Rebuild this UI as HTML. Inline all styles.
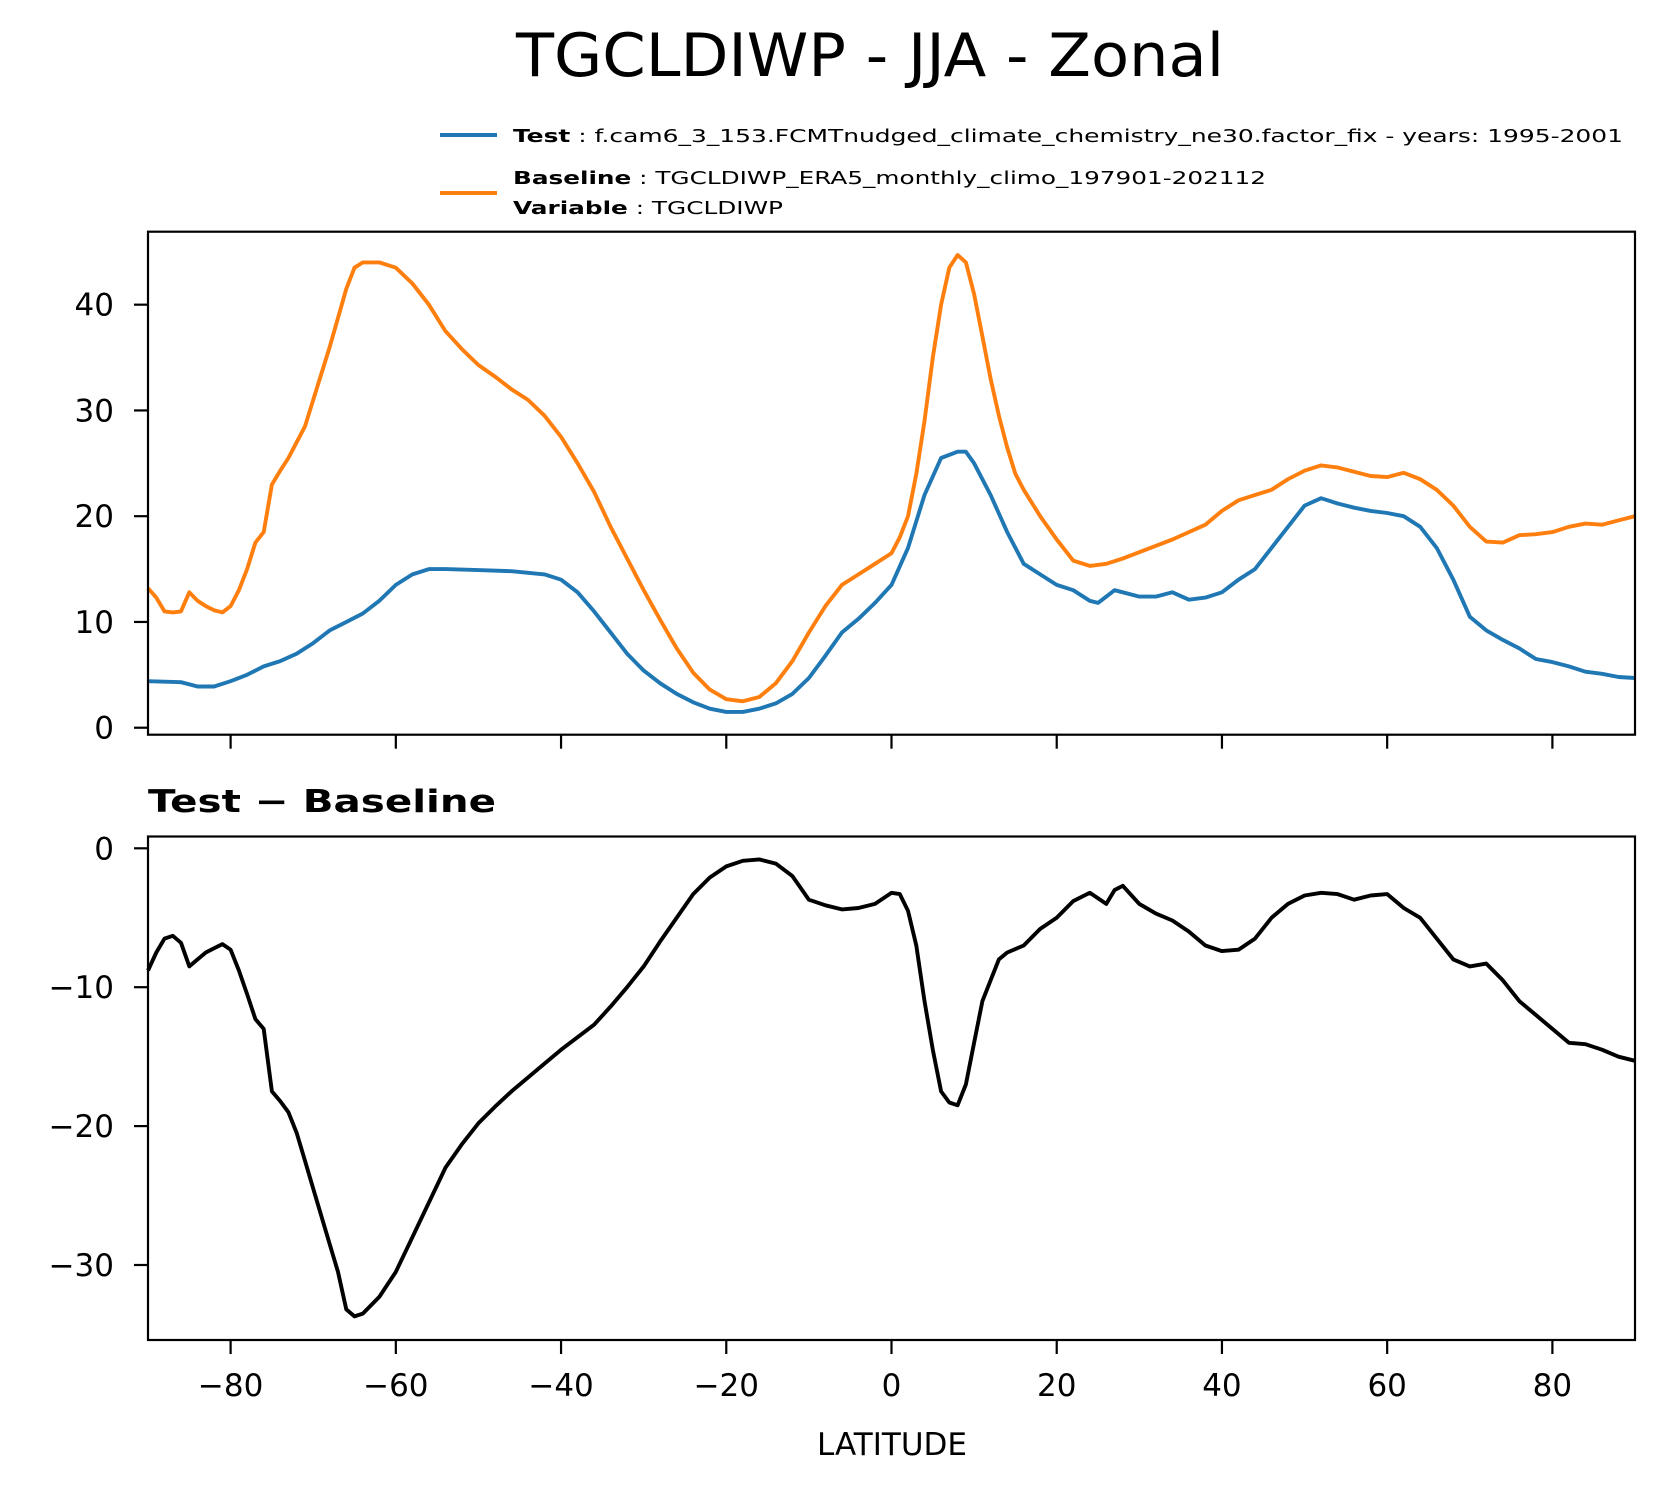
<!DOCTYPE html>
<html><head><meta charset="utf-8"><style>
html,body{margin:0;padding:0;background:#fff}
svg{display:block;font-family:"DejaVu Sans","Liberation Sans",sans-serif}
</style></head><body>
<svg id="fig" width="1665" height="1496" viewBox="0 0 1665 1496">
<text x="870" y="76" text-anchor="middle" font-size="60" textLength="708" lengthAdjust="spacingAndGlyphs">TGCLDIWP - JJA - Zonal</text>
<g>
<line x1="440" y1="135" x2="497" y2="135" stroke="#1f77b4" stroke-width="4"/>
<text x="513" y="142" font-size="18" textLength="1110" lengthAdjust="spacingAndGlyphs"><tspan font-weight="bold">Test</tspan> : f.cam6_3_153.FCMTnudged_climate_chemistry_ne30.factor_fix - years: 1995-2001</text>
<line x1="440" y1="193" x2="497" y2="193" stroke="#ff7f0e" stroke-width="4"/>
<text x="513" y="184" font-size="18" textLength="753" lengthAdjust="spacingAndGlyphs"><tspan font-weight="bold">Baseline</tspan> : TGCLDIWP_ERA5_monthly_climo_197901-202112</text>
<text x="513" y="214" font-size="18" textLength="270" lengthAdjust="spacingAndGlyphs"><tspan font-weight="bold">Variable</tspan> : TGCLDIWP</text>
</g>
<g id="top"></g>
<g id="bot"></g>
<text x="148" y="812" font-size="31" font-weight="bold" textLength="348" lengthAdjust="spacingAndGlyphs">Test − Baseline</text>
<text x="892" y="1455" text-anchor="middle" font-size="31">LATITUDE</text>
</svg>
<script>
const xTicks=[-80,-60,-40,-20,0,20,40,60,80];
const topYTicks=[0,10,20,30,40];
const botYTicks=[0,-10,-20,-30];
const baseLat=[-90,-89,-88,-87,-86,-85,-84,-83,-82,-81,-80,-79,-78,-77,-76,-75,-74,-73,-72,-71,-70,-68,-66,-65,-64,-62,-60,-58,-56,-54,-52,-50,-48,-46,-44,-42,-40,-38,-36,-34,-32,-30,-28,-26,-24,-22,-20,-18,-16,-14,-12,-10,-8,-6,-4,-2,0,1,2,3,4,5,6,7,8,9,10,11,12,13,14,15,16,18,20,22,24,26,28,30,32,34,36,38,40,42,44,46,48,50,52,54,56,58,60,62,64,66,68,70,72,74,76,78,80,82,84,86,88,90];
const baseVal=[13.2,12.3,11,10.9,11,12.8,12,11.5,11.1,10.9,11.5,13,15,17.5,18.5,23,24.3,25.5,27,28.5,31,36,41.5,43.5,44,44,43.5,42,40,37.5,35.8,34.3,33.2,32,31,29.5,27.5,25,22.3,19,16,13,10.2,7.5,5.2,3.6,2.7,2.5,2.9,4.2,6.3,9,11.5,13.5,14.5,15.5,16.5,18,20,24,29,35,40,43.5,44.7,44,41,37,33,29.5,26.5,24,22.5,20,17.8,15.8,15.3,15.5,16,16.6,17.2,17.8,18.5,19.2,20.5,21.5,22,22.5,23.5,24.3,24.8,24.6,24.2,23.8,23.7,24.1,23.5,22.5,21,19,17.6,17.5,18.2,18.3,18.5,19,19.3,19.2,19.6,20];
const testLat=[-90,-86,-84,-82,-80,-78,-76,-74,-72,-70,-68,-66,-64,-62,-60,-58,-56,-54,-50,-46,-42,-40,-38,-36,-34,-32,-30,-28,-26,-24,-22,-20,-18,-16,-14,-12,-10,-8,-6,-4,-2,0,2,4,6,8,9,10,12,14,16,18,20,22,24,25,27,28,30,32,34,36,38,40,42,44,46,48,50,52,54,56,58,60,62,64,66,68,70,72,74,76,78,80,82,84,86,88,90];
const testVal=[4.4,4.3,3.9,3.9,4.4,5,5.8,6.3,7,8,9.2,10,10.8,12,13.5,14.5,15,15,14.9,14.8,14.5,14,12.8,11,9,7,5.4,4.2,3.2,2.4,1.8,1.5,1.5,1.8,2.3,3.2,4.7,6.8,9,10.3,11.8,13.5,17,22,25.5,26.1,26.1,25,22,18.5,15.5,14.5,13.5,13,12,11.8,13,12.8,12.4,12.4,12.8,12.1,12.3,12.8,14,15,17,19,21,21.7,21.2,20.8,20.5,20.3,20,19,17,14,10.5,9.2,8.3,7.5,6.5,6.2,5.8,5.3,5.1,4.8,4.7];
const diffLat=[-90,-89,-88,-87,-86,-85,-84,-83,-82,-81,-80,-79,-78,-77,-76,-75,-74,-73,-72,-71,-70,-68,-67,-66,-65,-64,-62,-60,-58,-56,-54,-52,-50,-48,-46,-44,-42,-40,-38,-36,-34,-32,-30,-28,-26,-24,-22,-20,-18,-16,-14,-12,-10,-8,-6,-4,-2,0,1,2,3,4,5,6,7,8,9,10,11,12,13,14,16,18,20,22,24,26,27,28,30,32,34,36,38,40,42,44,46,48,50,52,54,56,58,60,62,64,66,68,70,72,74,76,78,80,82,84,86,88,90];
const diffVal=[-8.8,-7.5,-6.5,-6.3,-6.8,-8.5,-8,-7.5,-7.2,-6.9,-7.3,-8.8,-10.5,-12.3,-13,-17.5,-18.2,-19,-20.5,-22.5,-24.5,-28.5,-30.5,-33.2,-33.7,-33.5,-32.3,-30.5,-28,-25.5,-23,-21.3,-19.8,-18.6,-17.5,-16.5,-15.5,-14.5,-13.6,-12.7,-11.4,-10,-8.5,-6.7,-5,-3.3,-2.1,-1.3,-0.9,-0.8,-1.1,-2,-3.7,-4.1,-4.4,-4.3,-4,-3.2,-3.3,-4.5,-7,-11,-14.5,-17.5,-18.3,-18.5,-17,-14,-11,-9.5,-8,-7.5,-7,-5.8,-5,-3.8,-3.2,-4,-3,-2.7,-4,-4.7,-5.2,-6,-7,-7.4,-7.3,-6.5,-5,-4,-3.4,-3.2,-3.3,-3.7,-3.4,-3.3,-4.3,-5,-6.5,-8,-8.5,-8.3,-9.5,-11,-12,-13,-14,-14.1,-14.5,-15,-15.3];

const NS='http://www.w3.org/2000/svg';
const X0=148,X1=1635;
const xs=v=>X0+(v+90)/180*(X1-X0);
function mk(p,tag,attrs){const e=document.createElementNS(NS,tag);for(const k in attrs)e.setAttribute(k,attrs[k]);p.appendChild(e);return e;}
function axes(g,top,bot,ymin,ymax,yticks,showX,name){
  const ys=v=>bot+(v-ymin)/(ymax-ymin)*(top-bot);
  for(const t of yticks){
    const y=ys(t);
    const l=mk(g,'line',{x1:X0-14,x2:X0,y1:y,y2:y,stroke:'#000','stroke-width':2.2});
    
    
    const tx=mk(g,'text',{x:X0-34,y:y+11,'text-anchor':'end','font-size':31});
    tx.textContent=t<0?'−'+Math.abs(t):String(t);
    
    
  }
  for(const t of xTicks){
    const x=xs(t);
    const l=mk(g,'line',{x1:x,x2:x,y1:bot,y2:bot+14,stroke:'#000','stroke-width':2.2});
    
    
    if(showX){
      const tx=mk(g,'text',{x:x,y:bot+56,'text-anchor':'middle','font-size':31});
      tx.textContent=t<0?'−'+Math.abs(t):String(t);
      
      
    }
  }
  return ys;
}
function line(g,lat,val,ys,color,name){
  const d=lat.map((a,i)=>(i?'L':'M')+xs(a).toFixed(1)+','+ys(val[i]).toFixed(1)).join('');
  const p=mk(g,'path',{d:d,fill:'none',stroke:color,'stroke-width':3.9,'stroke-linejoin':'round'});
  
  
}
function frame(g,top,bot,name){
  const r=mk(g,'rect',{x:X0,y:top,width:X1-X0,height:bot-top,fill:'none',stroke:'#000','stroke-width':2.2});
  
  
}
const gt=document.getElementById('top');
const T0=231.7,T1=734.7;
const yt=axes(gt,T0,T1,-0.66,46.9,topYTicks,false,'top');
line(gt,testLat,testVal,yt,'#1f77b4','test-line');
line(gt,baseLat,baseVal,yt,'#ff7f0e','baseline-line');
frame(gt,T0,T1,'top-plot-frame');
const gb=document.getElementById('bot');
const B0=836.5,B1=1340;
const yb=axes(gb,B0,B1,-35.4,0.85,botYTicks,true,'diff');
line(gb,diffLat,diffVal,yb,'#000','difference-line');
frame(gb,B0,B1,'diff-plot-frame');
</script>
</body></html>
